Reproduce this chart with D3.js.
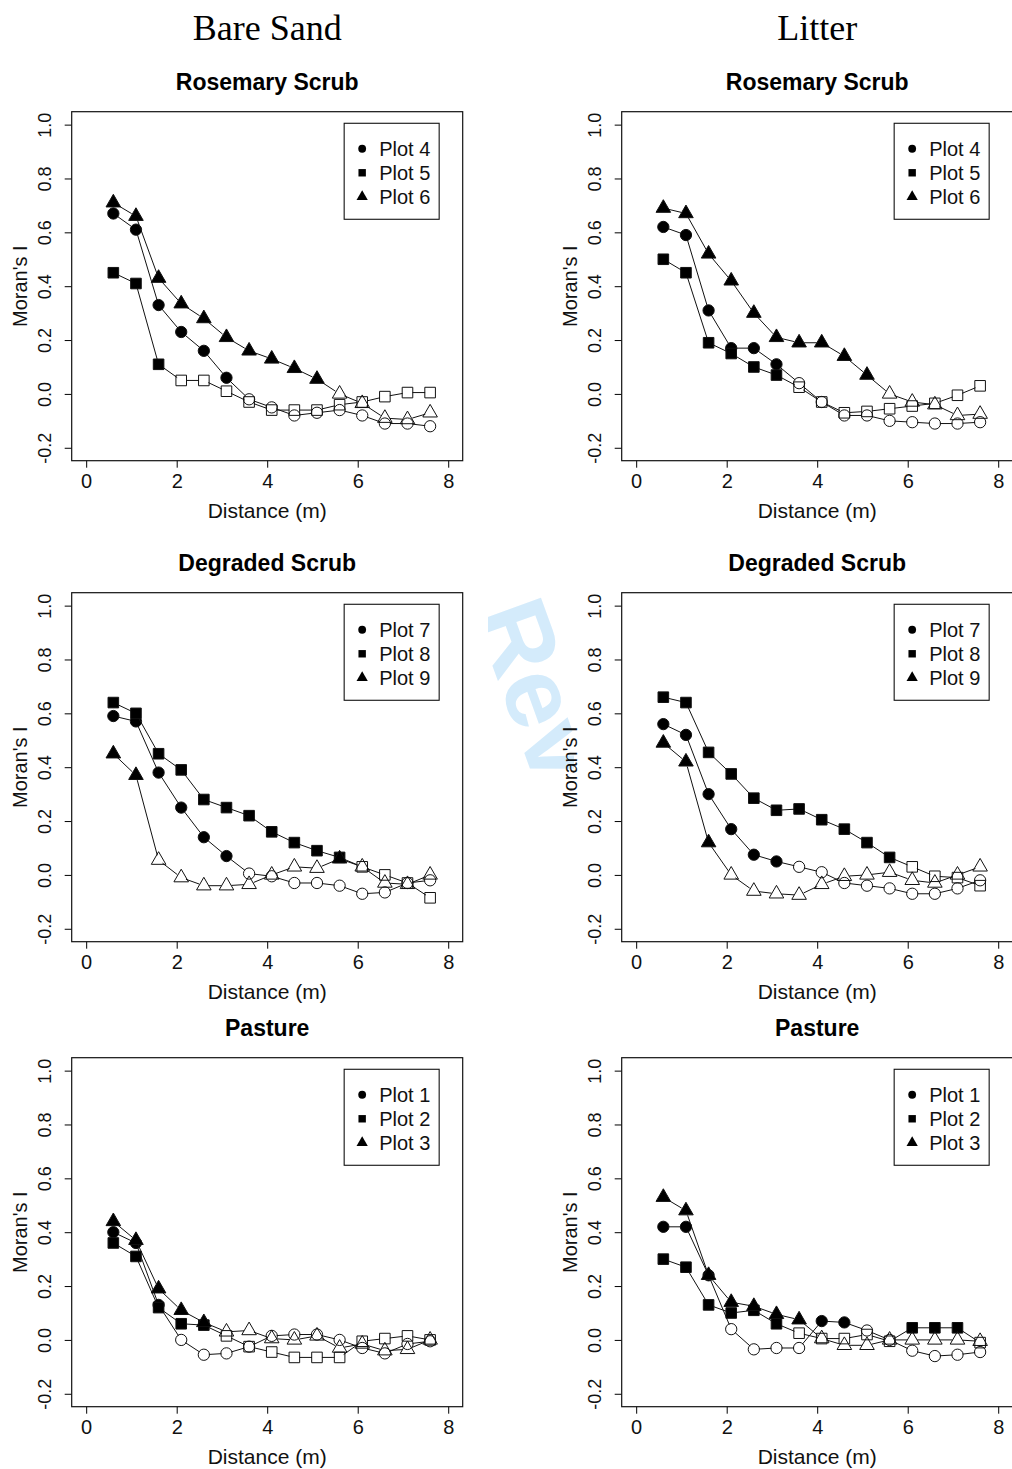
<!DOCTYPE html>
<html>
<head>
<meta charset="utf-8">
<script src="https://cdn.jsdelivr.net/npm/d3@7"></script>
<style>
	body { margin: 0; background: #fff; }
</style>
</head>
<body>
<div id="vis"></div>
<script>
const distance = [0.6, 1.1, 1.6, 2.1, 2.6, 3.1, 3.6, 4.1, 4.6, 5.1, 5.6, 6.1, 6.6, 7.1, 7.6];
const columnNames = ["Bare Sand", "Litter"];
const habitatNames = ["Rosemary Scrub", "Degraded Scrub", "Pasture"];
const plotNames = [
	["Plot 4", "Plot 5", "Plot 6"],
	["Plot 7", "Plot 8", "Plot 9"],
	["Plot 1", "Plot 2", "Plot 3"]
];
const xTicks = [0, 2, 4, 6, 8];
const yTicks = [-0.2, 0, 0.2, 0.4, 0.6, 0.8, 1.0];

// Moran's I per distance class; *Sig: 1 = significant (filled), 0 = open
// Rosemary scrub, bare sand
const rosSandP4 = [0.67, 0.61, 0.33, 0.23, 0.16, 0.06, -0.02, -0.05, -0.08, -0.07, -0.06, -0.08, -0.11, -0.11, -0.12];
const rosSandP5 = [0.45, 0.41, 0.11, 0.05, 0.05, 0.01, -0.03, -0.06, -0.06, -0.06, -0.04, -0.03, -0.01, 0.005, 0.005];
const rosSandP6 = [0.71, 0.66, 0.43, 0.335, 0.28, 0.21, 0.16, 0.13, 0.095, 0.055, 0.0, -0.035, -0.09, -0.095, -0.07];
const rosSandP4Sig = [1, 1, 1, 1, 1, 1, 0, 0, 0, 0, 0, 0, 0, 0, 0];
const rosSandP5Sig = [1, 1, 1, 0, 0, 0, 0, 0, 0, 0, 0, 0, 0, 0, 0];
const rosSandP6Sig = [1, 1, 1, 1, 1, 1, 1, 1, 1, 1, 0, 0, 0, 0, 0];
// Rosemary scrub, litter
const rosLitP4 = [0.62, 0.59, 0.31, 0.17, 0.17, 0.11, 0.04, -0.03, -0.08, -0.08, -0.10, -0.105, -0.11, -0.11, -0.105];
const rosLitP5 = [0.50, 0.45, 0.19, 0.15, 0.10, 0.07, 0.025, -0.03, -0.07, -0.065, -0.055, -0.045, -0.035, -0.005, 0.03];
const rosLitP6 = [0.69, 0.67, 0.52, 0.42, 0.30, 0.21, 0.19, 0.19, 0.14, 0.07, 0.0, -0.03, -0.04, -0.08, -0.075];
const rosLitP4Sig = [1, 1, 1, 1, 1, 1, 0, 0, 0, 0, 0, 0, 0, 0, 0];
const rosLitP5Sig = [1, 1, 1, 1, 1, 1, 0, 0, 0, 0, 0, 0, 0, 0, 0];
const rosLitP6Sig = [1, 1, 1, 1, 1, 1, 1, 1, 1, 1, 0, 0, 0, 0, 0];
// Degraded scrub, bare sand
const degSandP7 = [0.59, 0.57, 0.38, 0.25, 0.14, 0.07, 0.005, -0.005, -0.03, -0.03, -0.04, -0.07, -0.065, -0.03, -0.02];
const degSandP8 = [0.64, 0.60, 0.45, 0.39, 0.28, 0.25, 0.22, 0.16, 0.12, 0.09, 0.065, 0.03, 0.0, -0.03, -0.085];
const degSandP9 = [0.45, 0.37, 0.055, -0.01, -0.04, -0.04, -0.035, 0.0, 0.03, 0.025, 0.06, 0.03, -0.03, -0.035, 0.0];
const degSandP7Sig = [1, 1, 1, 1, 1, 1, 0, 0, 0, 0, 0, 0, 0, 0, 0];
const degSandP8Sig = [1, 1, 1, 1, 1, 1, 1, 1, 1, 1, 1, 0, 0, 0, 0];
const degSandP9Sig = [1, 1, 0, 0, 0, 0, 0, 0, 0, 0, 1, 0, 0, 0, 0];
// Degraded scrub, litter
const degLitP7 = [0.56, 0.52, 0.30, 0.17, 0.075, 0.05, 0.03, 0.01, -0.03, -0.04, -0.05, -0.07, -0.07, -0.05, -0.02];
const degLitP8 = [0.66, 0.64, 0.455, 0.375, 0.285, 0.24, 0.245, 0.205, 0.17, 0.12, 0.065, 0.03, -0.005, -0.01, -0.04];
const degLitP9 = [0.49, 0.42, 0.12, 0.0, -0.06, -0.07, -0.075, -0.035, -0.005, 0.0, 0.01, -0.02, -0.03, 0.0, 0.03];
const degLitP7Sig = [1, 1, 1, 1, 1, 1, 0, 0, 0, 0, 0, 0, 0, 0, 0];
const degLitP8Sig = [1, 1, 1, 1, 1, 1, 1, 1, 1, 1, 1, 0, 0, 0, 0];
const degLitP9Sig = [1, 1, 1, 0, 0, 0, 0, 0, 0, 0, 0, 0, 0, 0, 0];
// Pasture, bare sand
const pasSandP1 = [0.40, 0.36, 0.13, 0.0, -0.055, -0.05, -0.025, 0.015, 0.02, 0.02, 0.0, -0.03, -0.05, -0.015, -0.005];
const pasSandP2 = [0.36, 0.31, 0.12, 0.06, 0.055, 0.015, -0.025, -0.045, -0.065, -0.065, -0.065, -0.005, 0.005, 0.015, 0.0];
const pasSandP3 = [0.44, 0.37, 0.19, 0.11, 0.065, 0.03, 0.035, 0.005, 0.0, 0.015, -0.03, -0.015, -0.04, -0.035, 0.0];
const pasSandP1Sig = [1, 1, 1, 0, 0, 0, 0, 0, 0, 0, 0, 0, 0, 0, 0];
const pasSandP2Sig = [1, 1, 1, 1, 1, 0, 0, 0, 0, 0, 0, 0, 0, 0, 0];
const pasSandP3Sig = [1, 1, 1, 1, 1, 0, 0, 0, 0, 0, 0, 0, 0, 0, 0];
// Pasture, litter
const pasLitP1 = [0.42, 0.42, 0.24, 0.04, -0.035, -0.03, -0.03, 0.07, 0.065, 0.035, 0.0, -0.04, -0.06, -0.055, -0.045];
const pasLitP2 = [0.30, 0.27, 0.13, 0.10, 0.11, 0.06, 0.025, 0.005, 0.005, 0.02, -0.005, 0.045, 0.045, 0.045, -0.01];
const pasLitP3 = [0.53, 0.48, 0.24, 0.14, 0.125, 0.095, 0.075, 0.005, -0.02, -0.02, 0.0, 0.0, 0.0, 0.0, -0.005];
const pasLitP1Sig = [1, 1, 1, 0, 0, 0, 0, 1, 1, 0, 0, 0, 0, 0, 0];
const pasLitP2Sig = [1, 1, 1, 1, 1, 1, 0, 0, 0, 0, 0, 1, 1, 1, 0];
const pasLitP3Sig = [1, 1, 1, 1, 1, 1, 1, 0, 0, 0, 0, 0, 0, 0, 0];

const FONT = "'Liberation Sans', Arial, Helvetica, sans-serif";
const PANEL_W = 391;
const PANEL_H = 349;
const colX = [71.7, 621.7];
const rowY = [111.7, 592.7, 1057.7];

const main = () => {
	const panels = [
		{ row: 0, col: 0, values: [rosSandP4, rosSandP5, rosSandP6], sig: [rosSandP4Sig, rosSandP5Sig, rosSandP6Sig] },
		{ row: 0, col: 1, values: [rosLitP4, rosLitP5, rosLitP6], sig: [rosLitP4Sig, rosLitP5Sig, rosLitP6Sig] },
		{ row: 1, col: 0, values: [degSandP7, degSandP8, degSandP9], sig: [degSandP7Sig, degSandP8Sig, degSandP9Sig] },
		{ row: 1, col: 1, values: [degLitP7, degLitP8, degLitP9], sig: [degLitP7Sig, degLitP8Sig, degLitP9Sig] },
		{ row: 2, col: 0, values: [pasSandP1, pasSandP2, pasSandP3], sig: [pasSandP1Sig, pasSandP2Sig, pasSandP3Sig] },
		{ row: 2, col: 1, values: [pasLitP1, pasLitP2, pasLitP3], sig: [pasLitP1Sig, pasLitP2Sig, pasLitP3Sig] }
	];

	const svg = d3.select("#vis").append("svg")
		.attr("width", 1012)
		.attr("height", 1469)
		.style("font-family", FONT);

	// faint review watermark between the columns
	svg.append("defs").append("clipPath").attr("id", "wm-clip")
		.append("rect").attr("x", 488).attr("y", 582).attr("width", 86).attr("height", 205);
	svg.append("g").attr("clip-path", "url(#wm-clip)")
		.append("text")
		.attr("transform", "translate(474,615) rotate(70)")
		.attr("font-size", 100)
		.attr("font-weight", "bold")
		.attr("fill", "#d4ebfb")
		.text("Rev");

	columnNames.forEach((name, i) => {
		svg.append("text")
			.attr("x", colX[i] + PANEL_W / 2)
			.attr("y", 40)
			.attr("text-anchor", "middle")
			.attr("font-family", "'Liberation Serif', 'Times New Roman', serif")
			.attr("font-size", 36)
			.text(name);
	});

	panels.forEach((p) => drawPanel(svg, p));
};

const drawPanel = (svg, p) => {
	const g = svg.append("g")
		.attr("transform", `translate(${colX[p.col]},${rowY[p.row]})`);

	const x = d3.scaleLinear().domain([-0.32, 8.32]).range([0, PANEL_W]);
	const y = d3.scaleLinear().domain([-0.248, 1.048]).range([PANEL_H, 0]);

	g.append("text")
		.attr("x", PANEL_W / 2)
		.attr("y", -21.5)
		.attr("text-anchor", "middle")
		.attr("font-weight", "bold")
		.attr("font-size", 23)
		.text(habitatNames[p.row]);

	// axes
	const xAxis = g.append("g")
		.attr("transform", `translate(0,${PANEL_H})`)
		.call(d3.axisBottom(x).tickValues(xTicks).tickSize(7).tickPadding(6).tickFormat(d3.format("d")));
	xAxis.select(".domain").remove();
	xAxis.selectAll("text").attr("font-size", 20).attr("font-family", FONT).attr("fill", "#111");

	const yAxis = g.append("g")
		.call(d3.axisLeft(y).tickValues(yTicks).tickSize(7).tickFormat((d) => d.toFixed(1)));
	yAxis.select(".domain").remove();
	yAxis.selectAll("text")
		.attr("x", 0)
		.attr("dy", "0.35em")
		.attr("text-anchor", "middle")
		.attr("transform", "translate(-27,0) rotate(-90)")
		.attr("font-size", 18)
		.attr("font-family", FONT)
		.attr("fill", "#111");

	g.append("text")
		.attr("x", PANEL_W / 2)
		.attr("y", 398.5)
		.attr("dy", "0.35em")
		.attr("text-anchor", "middle")
		.attr("font-size", 21)
		.attr("fill", "#111")
		.text("Distance (m)");

	g.append("text")
		.attr("transform", `translate(-51.5,${PANEL_H / 2}) rotate(-90)`)
		.attr("dy", "0.35em")
		.attr("text-anchor", "middle")
		.attr("font-size", 20)
		.attr("fill", "#111")
		.text("Moran's I");

	// series: lines with small gaps at the points (R type = "b")
	const shapes = [d3.symbolCircle, d3.symbolSquare, d3.symbolTriangle];
	const sizes = [100, 112, 92];
	const gap = 5;

	p.values.forEach((vals, s) => {
		const pts = vals.map((v, i) => ({ px: x(distance[i]), py: y(v), filled: p.sig[s][i] === 1 }));

		g.append("g").selectAll("line")
			.data(d3.pairs(pts).filter(([a, b]) => Math.hypot(b.px - a.px, b.py - a.py) > 2 * gap))
			.join("line")
			.each(function ([a, b]) {
				const len = Math.hypot(b.px - a.px, b.py - a.py);
				const ux = (b.px - a.px) / len;
				const uy = (b.py - a.py) / len;
				d3.select(this)
					.attr("x1", a.px + ux * gap)
					.attr("y1", a.py + uy * gap)
					.attr("x2", b.px - ux * gap)
					.attr("y2", b.py - uy * gap);
			})
			.attr("stroke", "#111")
			.attr("stroke-width", 1);

		g.append("g").selectAll("path")
			.data(pts)
			.join("path")
			.attr("transform", (d) => `translate(${d.px},${d.py})`)
			.attr("d", d3.symbol().type(shapes[s]).size(sizes[s]))
			.attr("fill", (d) => (d.filled ? "#000" : "none"))
			.attr("stroke", "#111")
			.attr("stroke-width", 1);
	});

	// legend
	const legX = x(7.8) - 95;
	const legY = y(1.005);
	const leg = g.append("g").attr("transform", `translate(${legX},${legY})`);
	leg.append("rect")
		.attr("width", 95)
		.attr("height", 96)
		.attr("fill", "#fff")
		.attr("stroke", "#111")
		.attr("stroke-width", 1.1);
	const legSizes = [48, 55, 55];
	plotNames[p.row].forEach((name, i) => {
		leg.append("path")
			.attr("transform", `translate(18,${25.5 + i * 24})`)
			.attr("d", d3.symbol().type(shapes[i]).size(legSizes[i]))
			.attr("fill", "#000");
		leg.append("text")
			.attr("x", 35)
			.attr("y", 25.5 + i * 24)
			.attr("dy", "0.35em")
			.attr("font-size", 20)
			.attr("fill", "#111")
			.text(name);
	});

	g.append("rect")
		.attr("width", PANEL_W)
		.attr("height", PANEL_H)
		.attr("fill", "none")
		.attr("stroke", "#111")
		.attr("stroke-width", 1.2);
};

main();
</script>
</body>
</html>
